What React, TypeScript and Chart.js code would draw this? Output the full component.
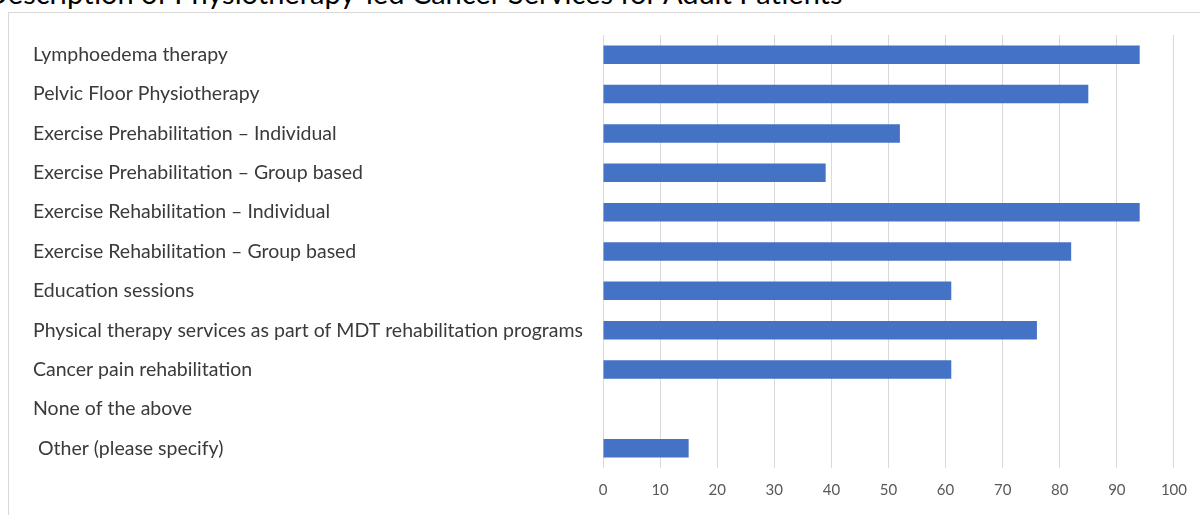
import React, { useEffect, useRef } from "react";
import { Chart, registerables } from "chart.js";

Chart.register(...registerables);

const titleText = "Description of Physiotherapy-led Cancer Services for Adult Patients";

const categories: string[] = [
  "Lymphoedema therapy",
  "Pelvic Floor Physiotherapy",
  "Exercise Prehabilitation \u2013 Individual",
  "Exercise Prehabilitation \u2013 Group based",
  "Exercise Rehabilitation \u2013 Individual",
  "Exercise Rehabilitation \u2013 Group based",
  "Education sessions",
  "Physical therapy services as part of MDT rehabilitation programs",
  "Cancer pain rehabilitation",
  "None of the above",
  " Other (please specify)",
];

const responses: number[] = [94, 85, 52, 39, 94, 82, 61, 76, 61, 0, 15];

const xTickMin = 0;
const xTickMax = 100;
const xTickStep = 10;

const FONT = "Lato, 'Open Sans', sans-serif";

export default function App() {
  const ref = useRef<HTMLCanvasElement | null>(null);

  useEffect(() => {
    document.body.style.margin = "0";
    if (!ref.current) return;

    const chart = new Chart(ref.current, {
      type: "bar",
      data: {
        labels: categories,
        datasets: [
          {
            label: "Responses",
            data: responses,
            backgroundColor: "#4472C4",
            borderWidth: 0,
            barPercentage: 0.47,
            categoryPercentage: 1,
          },
        ],
      },
      options: {
        indexAxis: "y",
        animation: false,
        responsive: false,
        maintainAspectRatio: false,
        layout: { padding: { left: 33, right: 24, top: 35, bottom: 0 } },
        plugins: {
          legend: { display: false },
          tooltip: { enabled: false },
          title: { display: false },
        },
        scales: {
          x: {
            min: xTickMin,
            max: xTickMax,
            border: { display: false },
            grid: { color: "#d9d9d9", lineWidth: 1, drawTicks: false },
            ticks: {
              stepSize: xTickStep,
              color: "#595959",
              padding: 13,
              font: { family: FONT, size: 15 },
            },
            afterFit: (s: any) => {
              s.height = 47;
            },
          },
          y: {
            border: { display: false },
            grid: { display: false, drawTicks: false },
            ticks: {
              crossAlign: "far",
              color: "#3a3a3a",
              padding: 0,
              font: { family: FONT, size: 19.5 },
            },
            afterFit: (s: any) => {
              s.width = 603 - 33;
            },
          },
        },
      },
    });
    return () => chart.destroy();
  }, []);

  return (
    <div
      style={{
        position: "absolute",
        left: 0,
        top: 0,
        width: 1200,
        height: 515,
        overflow: "hidden",
        background: "#ffffff",
        fontFamily: FONT,
      }}
    >
      <div
        style={{
          position: "absolute",
          left: -14,
          top: -22,
          fontSize: 29,
          lineHeight: "29px",
          color: "#000000",
          whiteSpace: "nowrap",
        }}
      >
        {titleText}
      </div>
      <div
        style={{
          position: "absolute",
          left: 8,
          top: 12,
          width: 1200,
          height: 520,
          border: "1px solid #d9d9d9",
          boxSizing: "border-box",
          background: "#ffffff",
        }}
      />
      <canvas
        ref={ref}
        width={1200}
        height={515}
        style={{ position: "absolute", left: 0, top: 0, width: 1200, height: 515 }}
      />
    </div>
  );
}
